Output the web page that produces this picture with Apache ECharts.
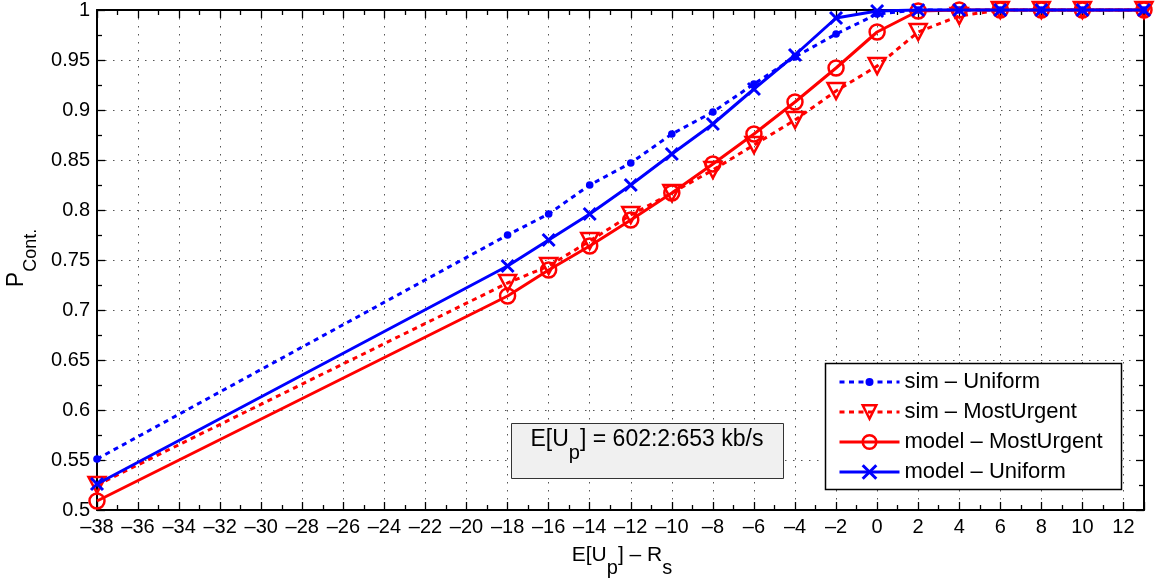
<!DOCTYPE html>
<html>
<head>
<meta charset="utf-8">
<script src="https://cdn.jsdelivr.net/npm/echarts@6/dist/echarts.min.js"></script>
<style>
  html, body { margin: 0; padding: 0; background: #ffffff; }
  #chart { width: 1160px; height: 579px; }
</style>
</head>
<body>
<div id="chart"></div>
<script>
// Offset between mean peer upload rate and stream rate (kb/s)
const xValues = [-38, -18, -16, -14, -12, -10, -8, -6, -4, -2, 0, 2, 4, 6, 8, 10, 13];

// Continuity probability per scheme
const simUniform      = [0.551, 0.775, 0.796, 0.825, 0.847, 0.876, 0.898, 0.926, 0.953, 0.976, 0.996, 1, 1, 1, 1, 1, 1];
const simMostUrgent   = [0.525, 0.727, 0.744, 0.769, 0.795, 0.817, 0.840, 0.865, 0.890, 0.919, 0.944, 0.978, 0.994, 1, 1, 1, 1];
const modelMostUrgent = [0.509, 0.714, 0.740, 0.764, 0.790, 0.817, 0.846, 0.876, 0.908, 0.942, 0.978, 0.999, 1, 1, 1, 1, 1];
const modelUniform    = [0.526, 0.744, 0.770, 0.796, 0.825, 0.856, 0.886, 0.921, 0.955, 0.992, 0.999, 1, 1, 1, 1, 1, 1];

const seriesNames = ['sim – Uniform', 'sim – MostUrgent', 'model – MostUrgent', 'model – Uniform'];
const annotationText = ['E[U', 'p', '] = 602:2:653 kb/s'];

const FONT = 'Liberation Sans, Arial, Helvetica, sans-serif';
const BLUE = '#0000ff';
const RED = '#ff0000';
// cross marker
const CROSS = 'path://M0,0L10,10M10,0L0,10';
// small dot inside a padded box, so the legend icon stays small too
const DOT = 'path://M0,0M17,17M8.5,3.5A5,5 0 1 1 8.5,13.5A5,5 0 1 1 8.5,3.5Z';

const pairs = (ys) => xValues.map((x, i) => [x, ys[i]]);
const xLabel = (v) => (v === 13 ? '' : (v < 0 ? '\u2013' + Math.abs(v) : String(v)));
const yLabel = (v) => String(+v.toFixed(2));

const tickStyle = { show: true, inside: true, length: 8, lineStyle: { color: '#000', width: 1.3 } };
const minorStyle = { show: true, splitNumber: 2, length: 5, lineStyle: { color: '#000', width: 1.3 } };
const gridDots = { show: true, lineStyle: { color: '#555', width: 1, type: [1.5, 6.5] } };
const axisLine = { show: true, onZero: false, lineStyle: { color: '#000', width: 2 } };

const chart = echarts.init(document.getElementById('chart'), null, { renderer: 'canvas' });

chart.setOption({
  animation: false,
  backgroundColor: '#ffffff',
  textStyle: { fontFamily: FONT },
  grid: { left: 97, right: 16, top: 8, bottom: 69, containLabel: false },
  xAxis: [
    {
      type: 'value', position: 'bottom', min: -38, max: 13, interval: 2,
      axisLine: axisLine, axisTick: tickStyle, minorTick: minorStyle,
      splitLine: gridDots,
      axisLabel: { formatter: xLabel, color: '#000', fontSize: 20, fontFamily: FONT, margin: 7 }
    },
    {
      type: 'value', position: 'top', min: -38, max: 13, interval: 2,
      axisLine: axisLine, axisTick: tickStyle, minorTick: minorStyle,
      splitLine: { show: false }, axisLabel: { show: false }
    }
  ],
  yAxis: [
    {
      type: 'value', position: 'left', min: 0.5, max: 1, interval: 0.05,
      axisLine: axisLine, axisTick: tickStyle, minorTick: minorStyle,
      splitLine: gridDots,
      axisLabel: { formatter: yLabel, color: '#000', fontSize: 20, fontFamily: FONT, margin: 7 }
    },
    {
      type: 'value', position: 'right', min: 0.5, max: 1, interval: 0.05,
      axisLine: axisLine, axisTick: tickStyle, minorTick: minorStyle,
      splitLine: { show: false }, axisLabel: { show: false }
    }
  ],
  legend: {
    orient: 'vertical',
    left: 826, top: 363,
    padding: [8, 6, 8, 12],
    itemWidth: 60, itemHeight: 17, itemGap: 8,
    textStyle: { fontSize: 22, lineHeight: 22, color: '#000', fontFamily: FONT },
    lineStyle: { width: 3 },
    z: 4,
    data: [
      { name: seriesNames[0], itemStyle: { color: BLUE, borderWidth: 0 }, lineStyle: { color: BLUE, width: 3, type: [5, 4.5] } },
      { name: seriesNames[1], itemStyle: { color: 'rgba(0,0,0,0)', borderColor: RED, borderWidth: 2.5 }, lineStyle: { color: RED, width: 3, type: [5, 4.5] } },
      { name: seriesNames[2], itemStyle: { color: 'rgba(0,0,0,0)', borderColor: RED, borderWidth: 2.5 }, lineStyle: { color: RED, width: 3, type: 'solid' } },
      { name: seriesNames[3], itemStyle: { color: BLUE, borderColor: BLUE, borderWidth: 3 }, lineStyle: { color: BLUE, width: 3, type: 'solid' } }
    ]
  },
  graphic: [
    // legend frame
    { type: 'rect', z: 3, shape: { x: 825.5, y: 363.5, width: 296, height: 126 },
      style: { fill: '#ffffff', stroke: '#000', lineWidth: 1.5 } },
    // annotation box
    { type: 'rect', z: 3, shape: { x: 511.5, y: 423.5, width: 272, height: 55 },
      style: { fill: '#f0f0f0', stroke: '#333', lineWidth: 1 } },
    { type: 'text', z: 4, x: 647, y: 428.5,
      style: {
        text: '{m|' + annotationText[0] + '}{s|' + annotationText[1] + '}{m|' + annotationText[2] + '}',
        align: 'center', verticalAlign: 'top', fill: '#000', font: '23px ' + FONT,
        rich: {
          m: { fontSize: 23, lineHeight: 23, verticalAlign: 'top', fontFamily: FONT, fill: '#000' },
          s: { fontSize: 20, lineHeight: 20, verticalAlign: 'top', padding: [14.5, 0, 0, 0], fontFamily: FONT, fill: '#000' }
        }
      } },
    // x-axis title
    { type: 'text', z: 4, x: 622, y: 545,
      style: {
        text: '{m|E[U}{s|p}{m|] \u2013 R}{s|s}',
        align: 'center', verticalAlign: 'top', fill: '#000', font: '21px ' + FONT,
        rich: {
          m: { fontSize: 21, lineHeight: 21, verticalAlign: 'top', fontFamily: FONT, fill: '#000' },
          s: { fontSize: 20, lineHeight: 20, verticalAlign: 'top', padding: [13, 0, 0, 0], fontFamily: FONT, fill: '#000' }
        }
      } },
    // y-axis title
    { type: 'text', z: 4, x: 5.5, y: 258, rotation: Math.PI / 2,
      style: {
        text: '{m|P}{s|Cont.}',
        align: 'center', verticalAlign: 'top', fill: '#000', font: '23px ' + FONT,
        rich: {
          m: { fontSize: 23, lineHeight: 23, verticalAlign: 'top', fontFamily: FONT, fill: '#000' },
          s: { fontSize: 18, lineHeight: 18, verticalAlign: 'top', padding: [17, 0, 0, 0], fontFamily: FONT, fill: '#000' }
        }
      } }
  ],
  series: [
    {
      name: seriesNames[0], type: 'line', data: pairs(simUniform), clip: false, z: 5,
      symbol: DOT, symbolSize: 13,
      itemStyle: { color: BLUE },
      lineStyle: { color: BLUE, width: 3, type: [5, 4.5] }
    },
    {
      name: seriesNames[1], type: 'line', data: pairs(simMostUrgent), clip: false, z: 6,
      symbol: 'triangle', symbolRotate: 180, symbolSize: [17, 16],
      itemStyle: { color: 'rgba(0,0,0,0)', borderColor: RED, borderWidth: 2.5 },
      lineStyle: { color: RED, width: 3, type: [5, 4.5] }
    },
    {
      name: seriesNames[2], type: 'line', data: pairs(modelMostUrgent), clip: false, z: 7,
      symbol: 'circle', symbolSize: 15,
      itemStyle: { color: 'rgba(0,0,0,0)', borderColor: RED, borderWidth: 2.5 },
      lineStyle: { color: RED, width: 3, type: 'solid' }
    },
    {
      name: seriesNames[3], type: 'line', data: pairs(modelUniform), clip: false, z: 8,
      symbol: CROSS, symbolSize: 12,
      itemStyle: { color: BLUE, borderColor: BLUE, borderWidth: 3 },
      lineStyle: { color: BLUE, width: 3, type: 'solid' }
    }
  ]
});
</script>
</body>
</html>
